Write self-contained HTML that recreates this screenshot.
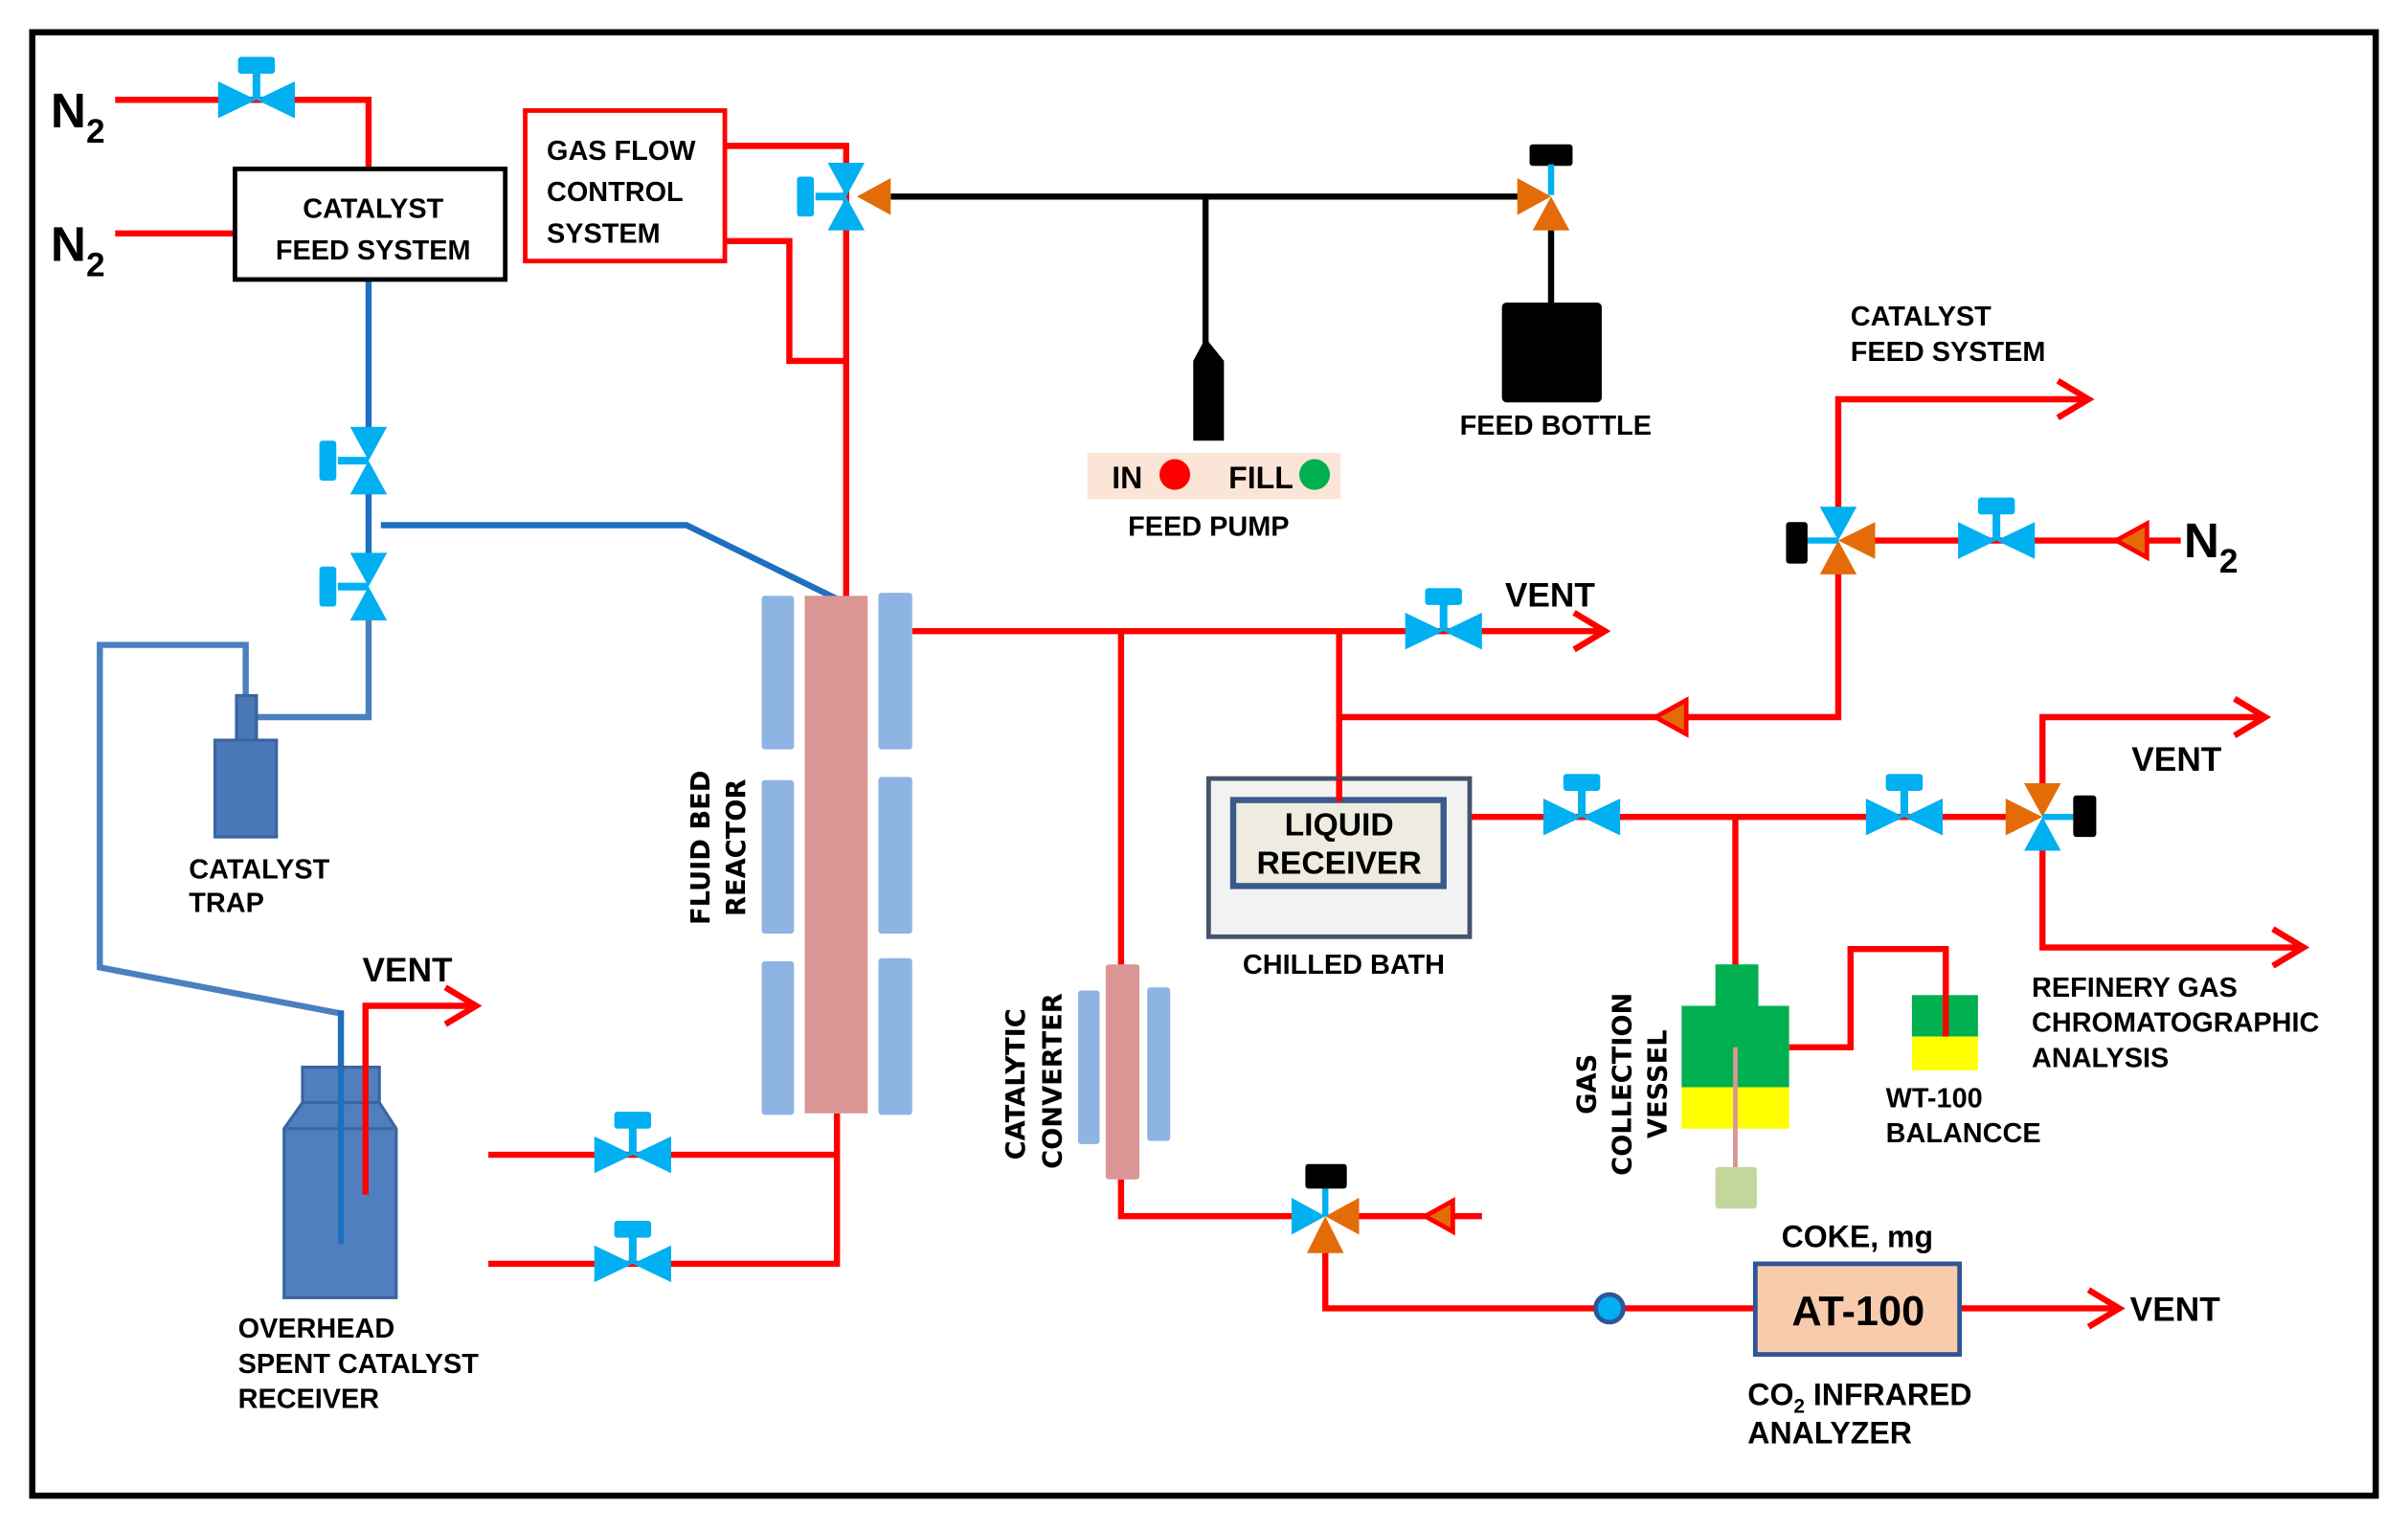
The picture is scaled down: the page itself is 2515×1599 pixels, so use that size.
<!DOCTYPE html>
<html><head><meta charset="utf-8"><style>
html,body{margin:0;padding:0;background:#fff;}
svg{display:block;}
text{font-family:"Liberation Sans",sans-serif;font-weight:bold;fill:#000;}
.l{font-size:18px;}
.v{font-size:17px;font-family:"DejaVu Sans","Liberation Sans",sans-serif;}
</style></head><body>
<svg width="2515" height="1599" viewBox="0 0 1568 997" preserveAspectRatio="none" xmlns="http://www.w3.org/2000/svg">
<defs>
<g id="hv">
 <polygon points="-25,-12 0,0 -25,12" fill="#00b0f0"/>
 <polygon points="25,-12 0,0 25,12" fill="#00b0f0"/>
 <rect x="-2.5" y="-20" width="5" height="20" fill="#00b0f0"/>
 <rect x="-12" y="-28" width="24" height="11" rx="2" fill="#00b0f0"/>
</g>
<g id="vv">
 <polygon points="-12,-22 0,0 12,-22" fill="#00b0f0"/>
 <polygon points="-12,22 0,0 12,22" fill="#00b0f0"/>
 <rect x="-20" y="-2.5" width="20" height="5" fill="#00b0f0"/>
 <rect x="-32" y="-13" width="11" height="26" rx="2" fill="#00b0f0"/>
</g>
</defs>
<rect x="0" y="0" width="1568" height="997" fill="#fff"/>
<rect x="21" y="21" width="1526" height="953" fill="none" stroke="#000" stroke-width="4"/>

<g fill="none" stroke="#ff0000" stroke-width="4" stroke-linejoin="miter">
 <polyline points="75,65 240,65 240,110"/>
 <line x1="75" y1="152" x2="153" y2="152"/>
 <polyline points="472,95 551,95 551,390"/>
 <polyline points="472,157 514,157 514,235 551,235"/>
 <line x1="594" y1="411" x2="1045" y2="411"/>
 <polyline points="1025,399 1045,411 1025,423"/>
 <polyline points="730,411 730,630"/>
 <polyline points="730,768 730,792 850,792"/>
 <line x1="880" y1="792" x2="965" y2="792"/>
 <polyline points="863,815 863,852 1143,852"/>
 <line x1="1276" y1="852" x2="1380" y2="852"/>
 <polyline points="1360,840 1380,852 1360,864"/>
 <line x1="872" y1="411" x2="872" y2="522"/>
 <polyline points="872,467 1197,467 1197,370"/>
 <polyline points="1197,332 1197,260 1360,260"/>
 <polyline points="1340,248 1360,260 1340,272"/>
 <line x1="1215" y1="352" x2="1420" y2="352"/>
 <line x1="957" y1="532" x2="1310" y2="532"/>
 <polyline points="1330,512 1330,467 1475,467"/>
 <polyline points="1455,455 1475,467 1455,479"/>
 <polyline points="1330,552 1330,617 1500,617"/>
 <polyline points="1480,605 1500,617 1480,629"/>
 <line x1="1130" y1="532" x2="1130" y2="630"/>
 <polyline points="1165,682 1205,682 1205,618 1267,618 1267,675"/>
 <polyline points="545,725 545,823 318,823"/>
 <line x1="545" y1="752" x2="318" y2="752"/>
 <polyline points="238,778 238,655 310,655"/>
 <polyline points="290,643 310,655 290,667"/>
</g>
<!-- inline left-pointing arrows -->
<g fill="#e36c09" stroke="#ff0000" stroke-width="3">
 <polygon points="1078,467 1098,456 1098,478"/>
 <polygon points="1378,352 1398,341 1398,363"/>
 <polygon points="928,792 946,782 946,802"/>
</g>

<!-- black feed line -->
<g stroke="#000" stroke-width="4" fill="none">
 <line x1="580" y1="128" x2="990" y2="128"/>
 <line x1="785" y1="128" x2="785" y2="225"/>
 <line x1="1010" y1="150" x2="1010" y2="200"/>
</g>
<polygon points="785,220 797,235 797,287 777,287 777,235" fill="#000"/>
<rect x="978" y="197" width="65" height="65" rx="3" fill="#000"/>
<rect x="996" y="94" width="28" height="14" rx="2" fill="#000"/>
<rect x="1008" y="107" width="4" height="20" fill="#00b0f0"/>
<polygon points="988,116 1010,128 988,140" fill="#e36c09"/>
<polygon points="998,150 1010,128 1022,150" fill="#e36c09"/>

<!-- blue lines -->
<g fill="none" stroke="#1f6fc0" stroke-width="4">
 <line x1="240" y1="182" x2="240" y2="280"/>
 <line x1="240" y1="320" x2="240" y2="362"/>
 <polyline points="248,342 447,342 545,390"/>
</g>
<g fill="none" stroke="#4a7fc0" stroke-width="4">
 <polyline points="240,402 240,467 165,467"/>
 <polyline points="160,455 160,420 65,420 65,630 222,660"/>
</g>
<line x1="222" y1="658" x2="222" y2="810" stroke="#1f6fc0" stroke-width="4"/>

<!-- catalyst trap -->
<rect x="154" y="453" width="13" height="30" fill="#4a78b8" stroke="#3a65a0" stroke-width="2"/>
<rect x="140" y="482" width="40" height="63" fill="#4a78b8" stroke="#3a65a0" stroke-width="2"/>

<!-- overhead receiver bottle -->
<polygon points="197,695 247,695 247,718 258,735 258,845 185,845 185,735 197,718" fill="#4f7fbf" stroke="#3a65a0" stroke-width="2"/>
<line x1="187" y1="735" x2="256" y2="735" stroke="#3a65a0" stroke-width="2"/>
<line x1="197" y1="718" x2="247" y2="718" stroke="#3a65a0" stroke-width="2"/>
<line x1="222" y1="695" x2="222" y2="810" stroke="#1f6fc0" stroke-width="4"/>
<line x1="238" y1="660" x2="238" y2="778" stroke="#ff0000" stroke-width="4"/>

<!-- boxes -->
<rect x="153" y="110" width="176" height="72" fill="#fff" stroke="#000" stroke-width="3"/>
<text class="l" x="243" y="142" text-anchor="middle">CATALYST</text>
<text class="l" x="243" y="169" text-anchor="middle">FEED  SYSTEM</text>
<rect x="342" y="72" width="130" height="98" fill="#fff" stroke="#ff0000" stroke-width="3"/>
<text class="l" x="356" y="104">GAS FLOW</text>
<text class="l" x="356" y="131">CONTROL</text>
<text class="l" x="356" y="158">SYSTEM</text>

<!-- reactor -->
<g fill="#8eb4e3">
 <rect x="496" y="388" width="21" height="100" rx="2"/>
 <rect x="496" y="508" width="21" height="100" rx="2"/>
 <rect x="496" y="626" width="21" height="100" rx="2"/>
 <rect x="572" y="386" width="22" height="102" rx="2"/>
 <rect x="572" y="506" width="22" height="102" rx="2"/>
 <rect x="572" y="624" width="22" height="102" rx="2"/>
 <rect x="702" y="645" width="14" height="100" rx="2"/>
 <rect x="747" y="643" width="15" height="100" rx="2"/>
</g>
<rect x="524" y="388" width="41" height="337" fill="#d99694"/>
<rect x="720" y="628" width="22" height="140" rx="2" fill="#d99694"/>
<text class="v" transform="translate(462,552) rotate(-90)" text-anchor="middle">FLUID BED</text>
<text class="v" transform="translate(485,552) rotate(-90)" text-anchor="middle">REACTOR</text>
<text class="v" transform="translate(667,706) rotate(-90)" text-anchor="middle">CATALYTIC</text>
<text class="v" transform="translate(691,704) rotate(-90)" text-anchor="middle">CONVERTER</text>
<text class="v" transform="translate(1039,706) rotate(-90)" text-anchor="middle">GAS</text>
<text class="v" transform="translate(1062,706) rotate(-90)" text-anchor="middle">COLLECTION</text>
<text class="v" transform="translate(1085,706) rotate(-90)" text-anchor="middle">VESSEL</text>

<!-- chilled bath -->
<rect x="787" y="507" width="170" height="103" fill="#f2f2f2" stroke="#44546a" stroke-width="3"/>
<rect x="803" y="521" width="137" height="56" fill="#eeece1" stroke="#3a5a8a" stroke-width="4"/>
<line x1="872" y1="507" x2="872" y2="522" stroke="#ff0000" stroke-width="4"/>
<text x="872" y="544" text-anchor="middle" style="font-size:21px">LIQUID</text>
<text x="872" y="569" text-anchor="middle" style="font-size:21px">RECEIVER</text>
<text class="l" x="875" y="634" text-anchor="middle">CHILLED BATH</text>

<!-- gas vessel & balance -->
<line x1="1130" y1="680" x2="1130" y2="762" stroke="#d99694" stroke-width="3"/>
<rect x="1117" y="628" width="28" height="28" fill="#00b050"/>
<rect x="1095" y="655" width="70" height="53" fill="#00b050"/>
<rect x="1095" y="708" width="70" height="27" fill="#ffff00"/>
<line x1="1130" y1="682" x2="1130" y2="735" stroke="#d99694" stroke-width="3"/>
<rect x="1117" y="760" width="27" height="27" rx="2" fill="#c3d69b"/>
<rect x="1245" y="648" width="43" height="27" fill="#00b050"/>
<rect x="1245" y="675" width="43" height="22" fill="#ffff00"/>
<line x1="1267" y1="618" x2="1267" y2="675" stroke="#ff0000" stroke-width="4"/>

<!-- AT-100 -->
<rect x="1143" y="823" width="133" height="59" fill="#f8cbad" stroke="#2f5597" stroke-width="3"/>
<text x="1210" y="863" text-anchor="middle" style="font-size:27px">AT-100</text>
<circle cx="1048" cy="852" r="9" fill="#00b0f0" stroke="#2f5597" stroke-width="3"/>

<!-- valves -->
<use href="#hv" x="167" y="65"/>
<use href="#hv" x="940" y="411"/>
<use href="#hv" x="1300" y="352"/>
<use href="#hv" x="1030" y="532"/>
<use href="#hv" x="1240" y="532"/>
<use href="#hv" x="412" y="752"/>
<use href="#hv" x="412" y="823"/>
<use href="#vv" x="240" y="300"/>
<use href="#vv" x="240" y="382"/>
<!-- 3-way at 551,128 -->
<use href="#vv" x="551" y="128"/>
<polygon points="580,116 558,128 580,140" fill="#e36c09"/>
<!-- 3-way at 1197,352 -->
<polygon points="1185,330 1197,352 1209,330" fill="#00b0f0"/>
<polygon points="1185,374 1197,352 1209,374" fill="#e36c09"/>
<polygon points="1221,340 1197,352 1221,364" fill="#e36c09"/>
<rect x="1177" y="350" width="20" height="4" fill="#00b0f0"/>
<rect x="1163" y="340" width="14" height="27" rx="2" fill="#000"/>
<!-- 3-way at 1330,532 -->
<polygon points="1318,510 1330,532 1342,510" fill="#e36c09"/>
<polygon points="1306,520 1330,532 1306,544" fill="#e36c09"/>
<polygon points="1318,554 1330,532 1342,554" fill="#00b0f0"/>
<rect x="1330" y="530" width="20" height="4" fill="#00b0f0"/>
<rect x="1350" y="518" width="15" height="27" rx="2" fill="#000"/>
<!-- 3-way at 863,792 -->
<polygon points="841,780 863,792 841,804" fill="#00b0f0"/>
<polygon points="885,780 863,792 885,804" fill="#e36c09"/>
<polygon points="851,816 863,792 875,816" fill="#e36c09"/>
<rect x="861" y="772" width="4" height="20" fill="#00b0f0"/>
<rect x="850" y="758" width="27" height="16" rx="2" fill="#000"/>

<!-- feed pump label -->
<rect x="708" y="295" width="165" height="30" fill="#fbe5d6"/>
<text x="724" y="318" style="font-size:20px">IN</text>
<circle cx="765" cy="309" r="10" fill="#ff0000"/>
<text x="800" y="318" style="font-size:20px">FILL</text>
<circle cx="856" cy="309" r="10" fill="#00b050"/>
<text class="l" x="787" y="349" text-anchor="middle">FEED PUMP</text>
<text class="l" x="1013" y="283" text-anchor="middle">FEED BOTTLE</text>

<!-- labels -->
<text x="33" y="83" style="font-size:32px">N<tspan style="font-size:22px" dy="10">2</tspan></text>
<text x="33" y="170" style="font-size:32px">N<tspan style="font-size:22px" dy="10">2</tspan></text>
<text x="1422" y="363" style="font-size:32px">N<tspan style="font-size:22px" dy="10">2</tspan></text>
<text x="980" y="395" style="font-size:22px">VENT</text>
<text x="236" y="639" style="font-size:22px">VENT</text>
<text x="1388" y="502" style="font-size:22px">VENT</text>
<text x="1387" y="860" style="font-size:22px">VENT</text>
<text class="l" x="1205" y="212">CATALYST</text>
<text class="l" x="1205" y="235">FEED  SYSTEM</text>
<text class="l" x="123" y="572">CATALYST</text>
<text class="l" x="123" y="594">TRAP</text>
<text class="l" x="155" y="871">OVERHEAD</text>
<text class="l" x="155" y="894">SPENT CATALYST</text>
<text class="l" x="155" y="917">RECEIVER</text>
<text class="l" x="1323" y="649">REFINERY GAS</text>
<text class="l" x="1323" y="672">CHROMATOGRAPHIC</text>
<text class="l" x="1323" y="695">ANALYSIS</text>
<text class="l" x="1228" y="721">WT-100</text>
<text class="l" x="1228" y="744">BALANCCE</text>
<text x="1160" y="812" style="font-size:20px">COKE, mg</text>
<text class="l" x="1138" y="915" style="font-size:20px">CO<tspan style="font-size:13px" dy="5">2</tspan><tspan dy="-5"> INFRARED</tspan></text>
<text class="l" x="1138" y="940" style="font-size:20px">ANALYZER</text>
</svg>
</body></html>
